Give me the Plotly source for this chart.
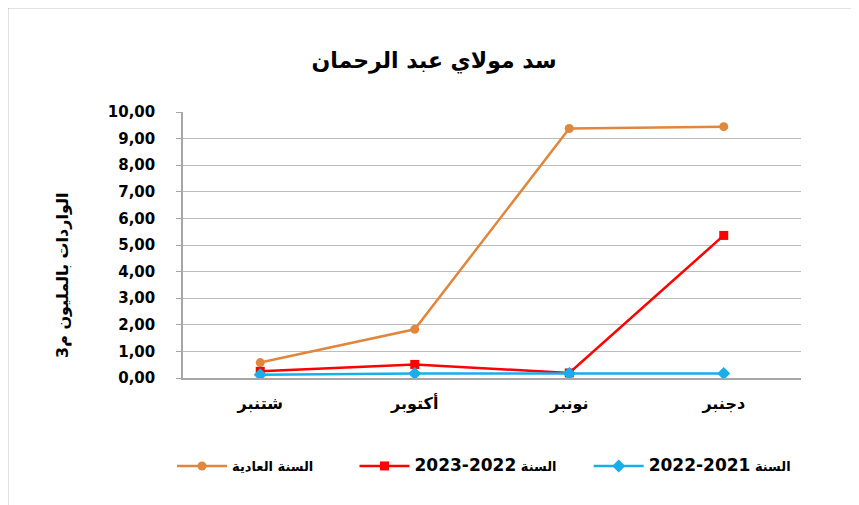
import plotly.graph_objects as go

months = ["شتنبر", "أكتوبر", "نونبر", "دجنبر"]
normal_year = [0.58, 1.83, 9.38, 9.45]
year_2022_2023 = [0.25, 0.51, 0.19, 5.36]
year_2021_2022 = [0.12, 0.17, 0.17, 0.17]
y_ticks = [0, 1, 2, 3, 4, 5, 6, 7, 8, 9, 10]

title_text = "سد مولاي عبد الرحمان"
y_title = "الواردات بالمليون م3"
word_year = "السنة"
PAD = "\u00a0"
names = ["السنة العادية" + PAD * 8,
         word_year + ' <span style="font-size:17px">2022-2023</span>' + PAD * 6,
         word_year + ' <span style="font-size:17px">2021-2022</span>']

fig = go.Figure()
fig.add_trace(go.Scatter(x=months, y=normal_year, name=names[0], mode="lines+markers",
                         line=dict(color="#E0873D", width=2.5),
                         marker=dict(symbol="circle", size=9, color="#E0873D")))
fig.add_trace(go.Scatter(x=months, y=year_2022_2023, name=names[1], mode="lines+markers",
                         line=dict(color="#FF0000", width=2.5),
                         marker=dict(symbol="square", size=9, color="#FF0000")))
fig.add_trace(go.Scatter(x=months, y=year_2021_2022, name=names[2], mode="lines+markers",
                         line=dict(color="#18AEEA", width=2.5),
                         marker=dict(symbol="diamond", size=10, color="#18AEEA")))

OFF = 8  # page body margin
W, H = 851, 497
L, R, T, B = 183 - OFF, 58, 112 - OFF, 127
pw = W - L - R
ph = H - T - B

def px_x(px):
    return (px - OFF - L) / pw

def px_y(py):
    return (H - B - (py - OFF)) / ph

fig.update_layout(
    width=W, height=H,
    margin=dict(l=L, r=R, t=T, b=B),
    paper_bgcolor="white", plot_bgcolor="white",
    separators=",.",
    font=dict(family="Liberation Sans, DejaVu Sans, sans-serif", color="black"),
    title=dict(text="<b>" + title_text + "</b>", x=(434 - OFF) / W, xanchor="center",
               y=1 - (60 - OFF) / H, yanchor="middle",
               font=dict(size=22, family="DejaVu Sans, sans-serif")),
    xaxis=dict(range=[-0.5, 3.5], showgrid=False, showline=True, linecolor="#A6A6A6",
               linewidth=1.5, ticks="", tickfont=dict(size=16, family="DejaVu Sans", color="black", weight="bold"),
               ticklabelstandoff=10, zeroline=False),
    yaxis=dict(range=[0, 10], tickvals=y_ticks, tickformat=".2f", showgrid=True,
               gridcolor="#BDBDBD", gridwidth=1.2, showline=True, linecolor="#A6A6A6",
               linewidth=1.5, ticks="outside", ticklen=5, tickcolor="#A6A6A6",
               tickfont=dict(size=15, family="DejaVu Sans", color="black", weight="bold"),
               ticklabelstandoff=18, zeroline=False),
    legend=dict(orientation="h", x=px_x(172), xanchor="left", y=px_y(466), yanchor="middle",
                font=dict(size=13, family="DejaVu Sans", color="black", weight="bold"),
                itemwidth=50, traceorder="normal"),
    showlegend=True,
)

fig.add_annotation(text="<b>" + y_title + "</b>", xref="paper", yref="paper", x=px_x(62), y=px_y(275),
                   textangle=-90, showarrow=False, xanchor="center", yanchor="middle",
                   font=dict(size=16, family="DejaVu Sans", color="black"))

# chart border (top and left visible)
fig.add_shape(type="line", xref="paper", yref="paper", x0=px_x(7), x1=px_x(900),
              y0=px_y(7), y1=px_y(7), line=dict(color="#8C8C8C", width=2.5))
fig.add_shape(type="line", xref="paper", yref="paper", x0=px_x(7), x1=px_x(7),
              y0=px_y(7), y1=px_y(560), line=dict(color="#8C8C8C", width=2.5))

fig.write_html("out.html")
